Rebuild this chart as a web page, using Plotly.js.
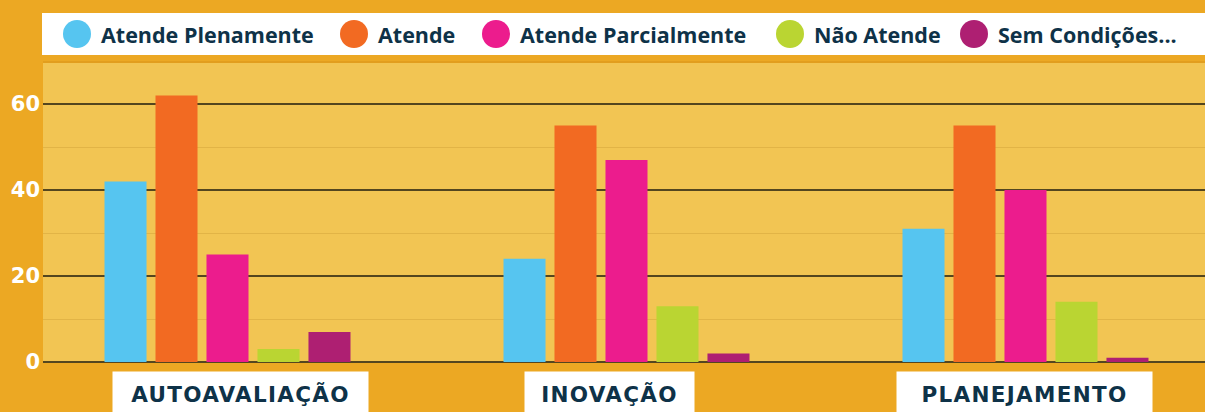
<!DOCTYPE html>
<html>
<head>
<meta charset="utf-8">
<script src="https://cdn.plot.ly/plotly-3.0.1.min.js"></script>
<style>
  html, body { margin: 0; padding: 0; background: #ECA823; }
  #chart { width: 1205px; height: 412px; }
</style>
</head>
<body>
<div id="chart"></div>
<script>
// ---------- data ----------
const categories = ['AUTOAVALIAÇÃO', 'INOVAÇÃO', 'PLANEJAMENTO'];
const seriesNames = ['Atende Plenamente', 'Atende', 'Atende Parcialmente', 'Não Atende', 'Sem Condições...'];
const atendePlenamente   = [42, 24, 31];
const atende             = [62, 55, 55];
const atendeParcialmente = [25, 47, 40];
const naoAtende          = [3, 13, 14];
const semCondicoes       = [7, 2, 1];
const yTickValues = [0, 20, 40, 60];

// ---------- style ----------
const seriesColors = ['#56C5F0', '#F26A22', '#EC1C8D', '#BAD532', '#AE1F72'];
const navy = '#0E3248';
const W = 1205, H = 412, L = 43, R = 0, T = 62, B = 50;
const pw = W - L - R, ph = H - T - B;
const px = x => (x - L) / pw;
const py = y => (H - B - y) / ph;

const seriesValues = [atendePlenamente, atende, atendeParcialmente, naoAtende, semCondicoes];
const traces = seriesNames.map((name, i) => ({
  type: 'bar',
  name: name,
  x: categories,
  y: seriesValues[i],
  marker: { color: seriesColors[i], line: { width: 0 } },
  hoverinfo: 'x+y+name',
  showlegend: false
}));

// legend drawn in the top white band
const legendCircleX = [77, 354, 496, 790, 974];
const legendY = 34;
const legendR = 14;
const shapes = [{
  type: 'rect', xref: 'paper', yref: 'paper', layer: 'above',
  x0: px(42), x1: px(1210), y0: py(55), y1: py(13),
  fillcolor: '#FFFFFF', line: { width: 0 }
}, {
  type: 'line', xref: 'paper', yref: 'paper', layer: 'above',
  x0: 0, x1: 1, y0: 1, y1: 1,
  line: { color: '#E29E1E', width: 2 }
}];
const annotations = [];
seriesNames.forEach((name, i) => {
  const cx = legendCircleX[i];
  shapes.push({
    type: 'circle', xref: 'paper', yref: 'paper', layer: 'above',
    x0: px(cx - legendR), x1: px(cx + legendR), y0: py(legendY + legendR), y1: py(legendY - legendR),
    fillcolor: seriesColors[i], line: { width: 0 }
  });
  annotations.push({
    xref: 'paper', yref: 'paper', x: px(cx + 22), y: py(legendY),
    xanchor: 'left', yanchor: 'middle', showarrow: false,
    text: name,
    font: { family: 'Open Sans', size: 21.5, color: navy, weight: 700 }
  });
});

// category labels in white boxes
const labelBoxW = [255, 169, 255];
const labelShift = [13, -17, -1];
categories.forEach((c, i) => {
  annotations.push({
    xref: 'x', yref: 'paper', x: c, y: py(371), xshift: labelShift[i],
    xanchor: 'center', yanchor: 'top', showarrow: false,
    text: '<span style="letter-spacing:1.3px">' + c + '</span>',
    width: labelBoxW[i], height: 44, borderpad: 0, align: 'center', valign: 'middle',
    bgcolor: '#FFFFFF',
    font: { family: 'DejaVu Sans', size: 21.5, color: navy, weight: 700 }
  });
});

const layout = {
  width: W, height: H,
  margin: { l: L, r: R, t: T, b: B, pad: 0 },
  paper_bgcolor: '#ECA823',
  plot_bgcolor: '#F2C553',
  barmode: 'group',
  bargap: 0.361,
  bargroupgap: 0.176,
  showlegend: false,
  xaxis: {
    type: 'category',
    range: [-0.4624, 2.4499],
    showticklabels: false,
    showgrid: false,
    zeroline: false,
    showline: false,
    ticks: ''
  },
  yaxis: {
    range: [0, 69.8],
    tickvals: yTickValues,
    ticktext: yTickValues.map(String),
    ticks: '',
    ticklabelstandoff: 2,
    tickfont: { family: 'DejaVu Sans', size: 21, color: '#FFFFFF', weight: 700 },
    showgrid: true,
    gridcolor: '#54461F',
    gridwidth: 2,
    zeroline: true,
    zerolinecolor: '#54461F',
    zerolinewidth: 2,
    minor: { tickvals: [10, 30, 50], showgrid: true, gridcolor: '#E2B446', gridwidth: 1, ticks: '' },
    showline: false,
    fixedrange: true
  },
  shapes: shapes,
  annotations: annotations
};

Plotly.newPlot('chart', traces, layout, { displayModeBar: false, staticPlot: true });
</script>
</body>
</html>
